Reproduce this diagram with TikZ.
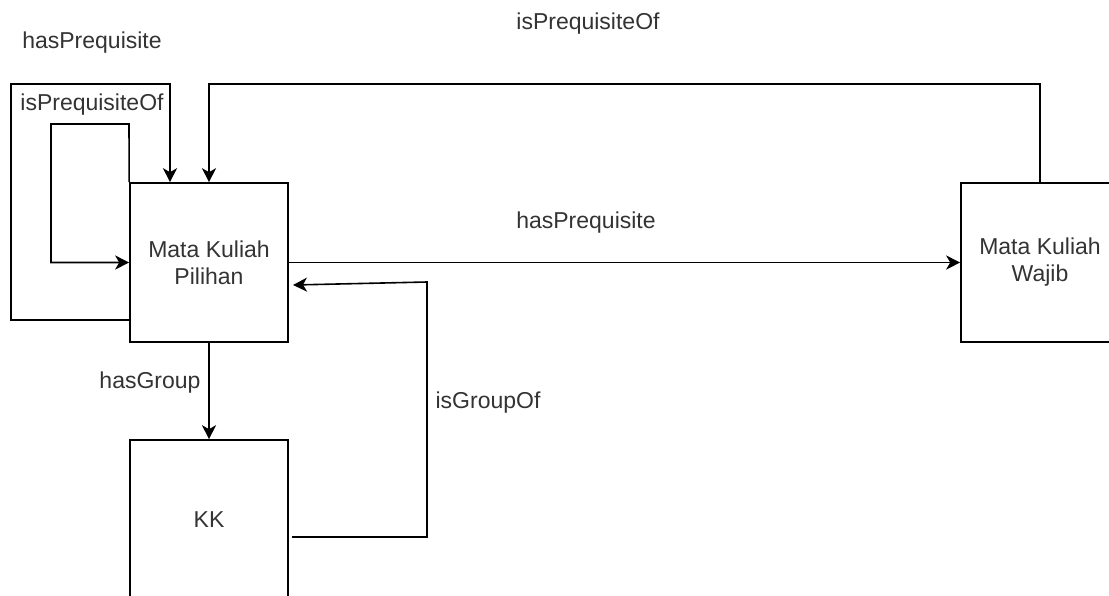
\documentclass[tikz,border=0pt]{standalone}
\usepackage{fontspec}
\setmainfont{Liberation Sans}
\usetikzlibrary{arrows.meta}

\tikzset{
		box/.style={draw, black, line width=1.6pt, minimum width=158pt, minimum height=159pt, align=center, text=black!80, inner sep=0pt},
		conn/.style={black, line width=1.6pt},
		arrow/.style={conn, -{Stealth[length=14pt, width=14pt, inset=4pt]}},
		lbl/.style={text=black!80, inner sep=0pt}
	}

\begin{document}
\begin{tikzpicture}[x=1pt, y=-1pt, every node/.style={font=\fontsize{23}{27}\selectfont}]
	
	\useasboundingbox (0,0) rectangle (1109,595);
	\clip (0,0) rectangle (1109,595);
	
	\node (pilihan) at (209,262.5) [box] {Mata Kuliah\\Pilihan};
	\node (wajib) at (1040,262.5) [box] {Mata Kuliah\\Wajib};
	\node (kk) at (209,519.5) [box] {KK};
	
	\coordinate (kkout) at (292,537);
	\coordinate (grpin) at (293,285);
	
	\draw [arrow] (pilihan) -- (wajib);
	\draw [arrow] (wajib.north) -- (wajib.north |- 0,84) -| (pilihan.north);
	\draw [arrow] (pilihan.west |- 0,320) -| (11,84) -| (pilihan.north -| 170,0);
	\draw [arrow] (pilihan.north west) -- (129,124) -- (51,124) |- (pilihan.west);
	\draw [arrow] (pilihan) -- (kk);
	\draw [arrow] (kkout) -| (427,282) -- (grpin);
	
	\node (hasPreqLoop) at (92,43) [lbl] {hasPrequisite};
	\node (isPreqLoop) at (92,105) [lbl] {isPrequisiteOf};
	\node (isPreqTop) at (588,24) [lbl] {isPrequisiteOf};
	\node (hasPreq) at (586,223) [lbl] {hasPrequisite};
	\node (hasGroup) at (150,383) [lbl] {hasGroup};
	\node (isGroupOf) at (488,403) [lbl] {isGroupOf};
	
\end{tikzpicture}
\end{document}
